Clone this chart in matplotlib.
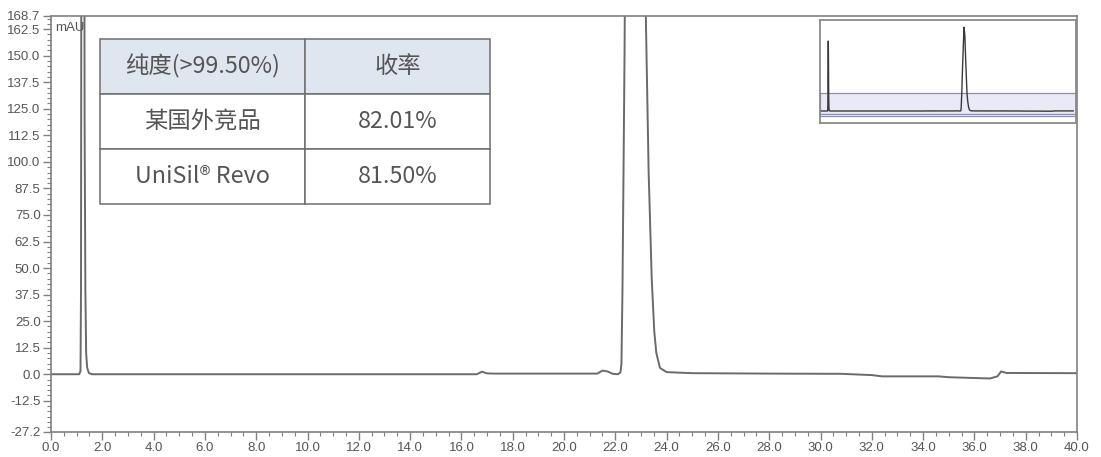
import matplotlib
matplotlib.use("Agg")
import matplotlib.pyplot as plt
from matplotlib.ticker import MultipleLocator, FixedLocator

time_min = [0.0, 1.10, 1.15, 1.17, 1.19, 1.24, 1.27, 1.31, 1.34, 1.37, 1.41,
            1.48, 1.60, 16.6, 16.8, 17.0, 17.3, 21.3, 21.5, 21.7, 21.9, 22.1,
            22.2, 22.24, 22.28, 22.36, 22.5, 22.72, 22.85, 23.0, 23.19, 23.3,
            23.42, 23.52, 23.6, 23.74, 24.0, 25.0, 28.0, 30.8, 32.0, 32.4,
            34.6, 35.0, 36.6, 36.9, 37.04, 37.26, 40.0]
signal_mau = [0.0, 0.0, 1.5, 40, 300, 645, 480, 120, 40, 10, 3,
              0.5, 0.0, 0.0, 1.2, 0.4, 0.3, 0.3, 1.7, 1.3, 0.2, 0.0,
              0.8, 5, 40, 150, 420, 772, 700, 450, 168.7, 95,
              45, 20, 10, 3, 1.0, 0.5, 0.3, 0.2, -0.4, -1.0,
              -1.0, -1.4, -2.0, -1.0, 1.3, 0.6, 0.5]

y_min, y_max = -27.2, 168.7
y_tick_vals = [-27.2, -12.5, 0.0, 12.5, 25.0, 37.5, 50.0, 62.5, 75.0, 87.5,
               100.0, 112.5, 125.0, 137.5, 150.0, 162.5, 168.7]

# purity / yield comparison table
table_header = ["纯度(>99.50%)", "收率"]
table_rows = [["某国外竞品", "82.01%"],
              ["UniSil® Revo", "81.50%"]]

line_grey = "#6a6a6a"
axis_grey = "#808080"
text_grey = "#555555"

plt.rcParams["font.family"] = ["Liberation Sans", "DejaVu Sans"]

fig = plt.figure(figsize=(11.01, 4.57), dpi=100)
ax = fig.add_axes([51 / 1101, 25 / 457, 1026 / 1101, 416 / 457])

ax.plot(time_min, signal_mau, color=line_grey, lw=1.4, solid_joinstyle="round")
ax.set_xlim(0, 40)
ax.set_ylim(y_min, y_max)

ax.xaxis.set_major_locator(MultipleLocator(2.0))
ax.xaxis.set_minor_locator(MultipleLocator(0.5))
ax.xaxis.set_major_formatter(lambda v, p: f"{v:.1f}")
ax.yaxis.set_major_locator(FixedLocator(y_tick_vals))
ax.yaxis.set_minor_locator(MultipleLocator(2.5))
ax.yaxis.set_major_formatter(lambda v, p: f"{v:.1f}")

ax.tick_params(which="major", direction="out", length=6, width=1,
               color=axis_grey, labelcolor=text_grey, labelsize=9.5, pad=1.5)
ax.tick_params(which="minor", direction="out", length=3, width=0.8,
               color=axis_grey)
for s in ax.spines.values():
    s.set_color(axis_grey)
    s.set_linewidth(1.2)

ax.text(0.004, 0.985, "mAU", transform=ax.transAxes, ha="left", va="top",
        fontsize=9.5, color=text_grey)

# table in the upper-left corner
tbl = ax.table(cellText=table_rows, colLabels=table_header,
               cellLoc="center", colWidths=[0.526, 0.474],
               bbox=[0.0478, 0.548, 0.380, 0.397])
tbl.auto_set_font_size(False)
for (r, c), cell in tbl.get_celld().items():
    cell.set_edgecolor("#6e6e6e")
    cell.set_linewidth(1.1)
    cell.set_facecolor("#dfe6ef" if r == 0 else "white")
    cell.get_text().set_fontfamily(["Noto Sans CJK SC", "DejaVu Sans"])
    cell.get_text().set_fontsize(16.8)
    cell.get_text().set_color(text_grey)

# overview of the full trace, top right
ins = fig.add_axes([820 / 1101, (457 - 122.7) / 457, 255.7 / 1101, 102.7 / 457])
ins.axhspan(y_min, y_max, facecolor="#e9e9f7", edgecolor="#8d8db0", lw=0.9)
ins.axhline(-45, color="#8d8db0", lw=0.9)
ins.plot(time_min, signal_mau, color="#3a3a3a", lw=1.0)
ins.set_xlim(-0.07, 40.4)
ins.set_ylim(-108, 839)
ins.set_xticks([])
ins.set_yticks([])
for s in ins.spines.values():
    s.set_color("#8a8a8a")
    s.set_linewidth(1.3)

fig.savefig("out.png", dpi=100)
